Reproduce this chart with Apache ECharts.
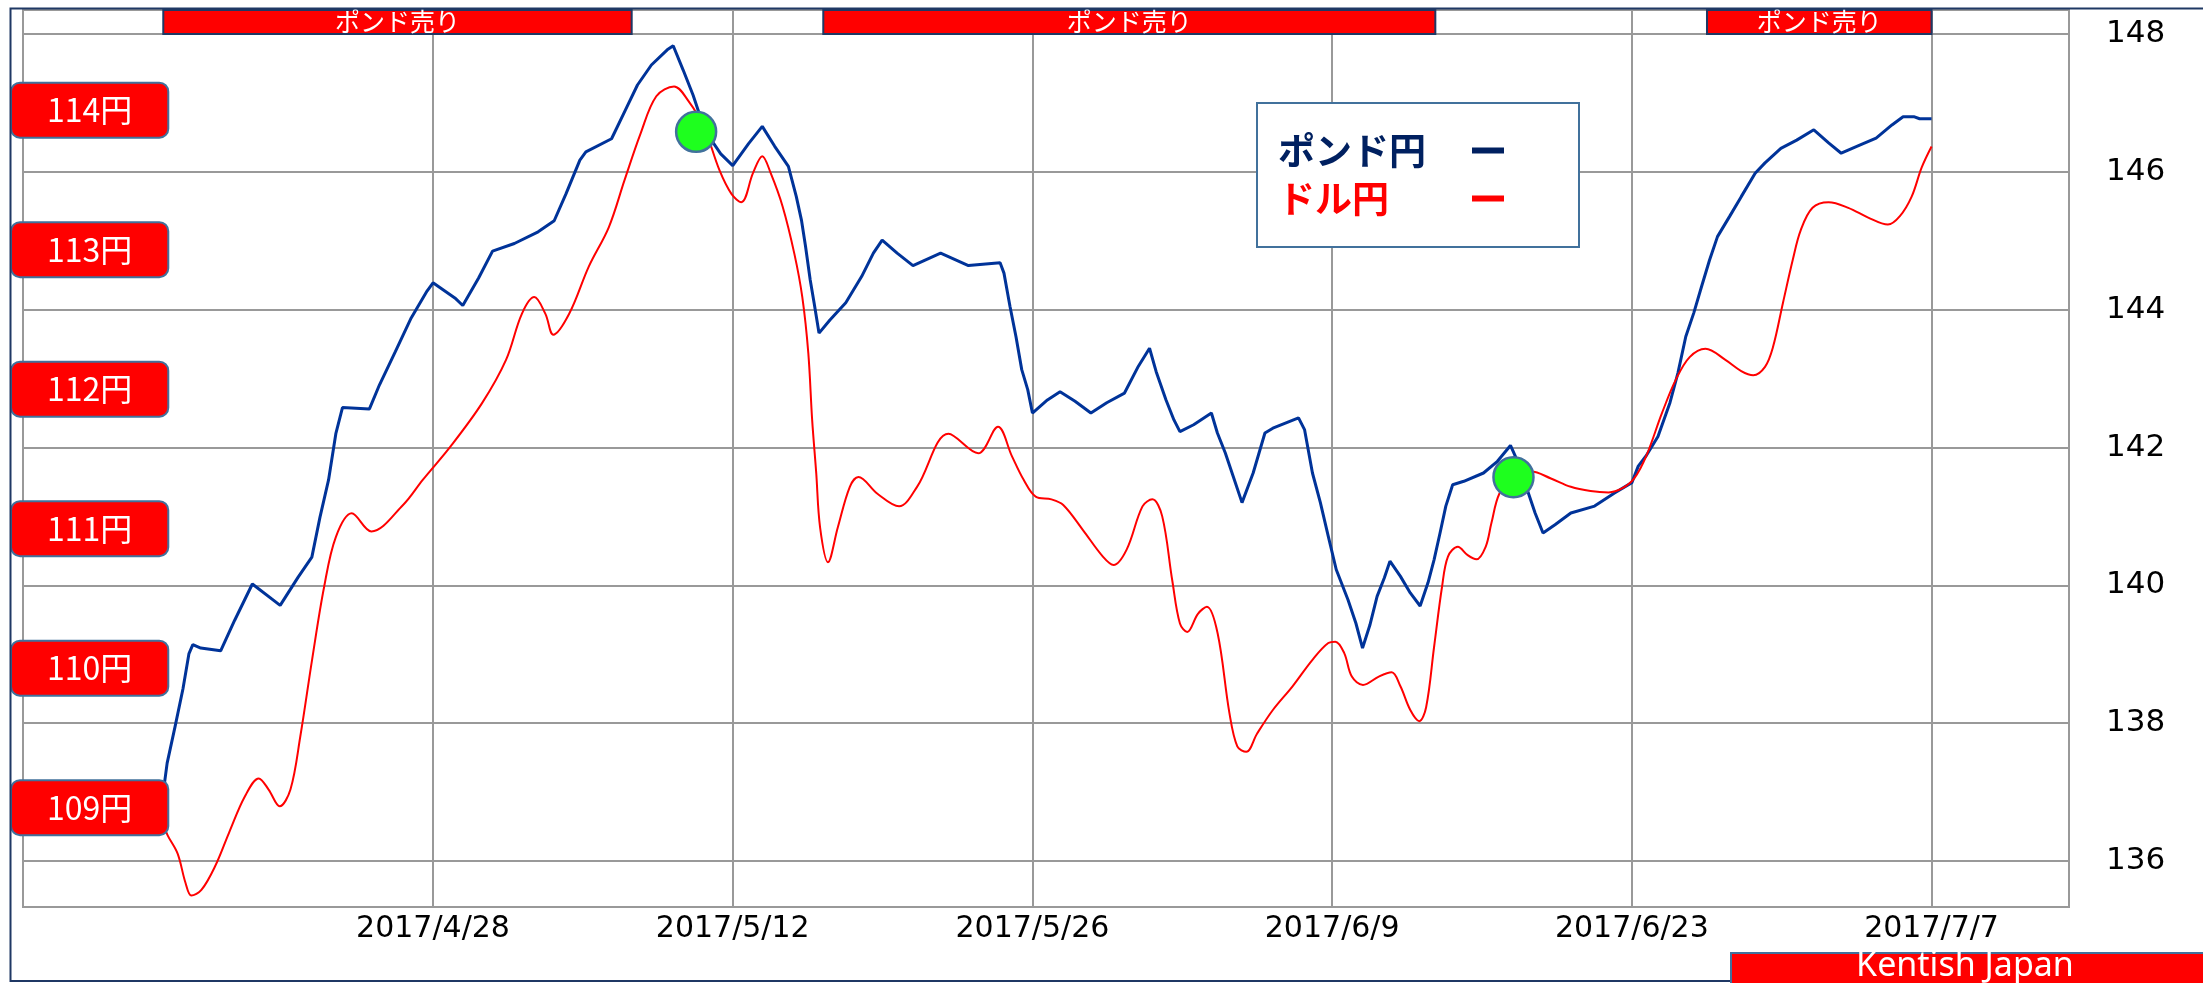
<!DOCTYPE html>
<html>
<head>
  <meta charset="utf-8">
  <title>ポンド円とドル円</title>
  <script src="https://cdn.jsdelivr.net/npm/echarts/dist/echarts.min.js"></script>
  <style>
    html, body { margin: 0; padding: 0; background: #fff; }
    #main { width: 2203px; height: 983px; }
  </style>
</head>
<body>
<div id="main"></div>

<script>
  // x は 2017/4/28 からの日数
  const tickDays = [0, 14, 28, 42, 56, 70];
  const tickLabels = ['2017/4/28', '2017/5/12', '2017/5/26', '2017/6/9', '2017/6/23', '2017/7/7'];
  const poundTicks = [136, 138, 140, 142, 144, 146, 148];
  const dollarTicks = [109, 110, 111, 112, 113, 114];

  // ポンド売りの期間 [開始, 終了]
  const sellPeriods = [[-12.60, 9.28], [18.23, 46.82], [59.51, 70.0]];
  // 緑の丸
  const signalPoints = [[12.29, 146.58], [50.47, 141.57]];

  // ポンド円
  const poundYen = [
    [-12.60, 137.00], [-12.42, 137.42], [-12.05, 137.95], [-11.68, 138.50], [-11.40, 139.01],
    [-11.22, 139.14], [-10.85, 139.09], [-9.92, 139.05], [-9.27, 139.49], [-8.44, 140.02],
    [-7.14, 139.71], [-6.30, 140.12], [-5.66, 140.41], [-5.28, 140.99], [-4.88, 141.53],
    [-4.54, 142.20], [-4.23, 142.58], [-2.97, 142.56], [-2.50, 142.91], [-1.76, 143.39],
    [-1.02, 143.88], [-0.28, 144.27], [0.00, 144.39], [1.02, 144.17], [1.39, 144.06],
    [2.13, 144.46], [2.78, 144.85], [3.80, 144.96], [4.91, 145.13], [5.66, 145.29],
    [6.21, 145.68], [6.86, 146.17], [7.14, 146.29], [8.34, 146.48], [8.99, 146.90],
    [9.55, 147.26], [10.20, 147.55], [10.94, 147.77], [11.22, 147.83], [11.68, 147.48],
    [12.15, 147.11], [12.70, 146.60], [13.44, 146.26], [14.00, 146.09], [14.74, 146.41],
    [15.38, 146.66], [15.96, 146.37], [16.60, 146.08], [16.97, 145.64], [17.21, 145.30],
    [17.40, 144.92], [17.62, 144.43], [17.80, 144.10], [18.03, 143.66], [18.54, 143.85],
    [19.28, 144.10], [20.02, 144.48], [20.57, 144.82], [20.98, 145.01], [21.68, 144.82],
    [22.42, 144.64], [23.71, 144.82], [25.01, 144.64], [26.49, 144.68], [26.67, 144.53],
    [26.95, 144.05], [27.23, 143.61], [27.50, 143.13], [27.78, 142.84], [28.00, 142.50],
    [28.70, 142.69], [29.29, 142.81], [29.99, 142.67], [30.73, 142.50], [31.47, 142.65],
    [32.30, 142.79], [32.95, 143.18], [33.47, 143.44], [33.78, 143.10], [34.24, 142.69],
    [34.61, 142.40], [34.89, 142.23], [35.53, 142.33], [36.36, 142.50], [36.64, 142.21],
    [37.01, 141.92], [37.38, 141.58], [37.79, 141.20], [38.31, 141.63], [38.86, 142.21],
    [39.23, 142.28], [40.43, 142.43], [40.71, 142.26], [41.08, 141.63], [41.45, 141.20],
    [41.82, 140.71], [42.19, 140.23], [42.74, 139.79], [43.11, 139.45], [43.42, 139.09],
    [43.76, 139.42], [44.10, 139.84], [44.44, 140.11], [44.70, 140.35], [45.19, 140.13],
    [45.65, 139.89], [46.11, 139.70], [46.48, 140.04], [46.76, 140.37], [47.04, 140.76],
    [47.31, 141.15], [47.63, 141.46], [48.15, 141.51], [49.07, 141.63], [49.72, 141.80],
    [50.33, 142.03], [50.56, 141.87], [51.11, 141.39], [51.48, 141.05], [51.85, 140.76],
    [52.41, 140.88], [53.15, 141.05], [54.26, 141.15], [55.19, 141.34], [56.00, 141.49],
    [56.30, 141.73], [56.67, 141.88], [57.22, 142.16], [57.78, 142.65], [58.15, 143.08],
    [58.52, 143.61], [58.89, 143.95], [59.26, 144.34], [59.63, 144.72], [60.00, 145.06],
    [60.56, 145.35], [61.11, 145.64], [61.76, 145.98], [62.22, 146.13], [62.96, 146.34],
    [63.70, 146.46], [64.50, 146.61], [65.19, 146.42], [65.78, 146.27], [66.67, 146.39],
    [67.41, 146.49], [68.15, 146.68], [68.67, 146.80], [69.17, 146.80], [69.44, 146.77],
    [70.00, 146.77]
  ];

  // ドル円
  const dollarYen = [
    [-12.60, 108.88], [-12.39, 108.80], [-11.93, 108.67], [-11.56, 108.46], [-11.29, 108.37],
    [-10.82, 108.41], [-10.18, 108.58], [-9.53, 108.82], [-8.79, 109.08], [-8.14, 109.21],
    [-7.68, 109.13], [-7.16, 109.01], [-6.66, 109.13], [-6.20, 109.51], [-5.65, 110.06],
    [-5.09, 110.58], [-4.54, 110.94], [-3.80, 111.11], [-2.88, 110.98], [-1.40, 111.17],
    [-0.48, 111.35], [0.82, 111.59], [2.29, 111.90], [3.41, 112.21], [4.15, 112.54],
    [4.73, 112.66], [5.25, 112.54], [5.62, 112.39], [6.36, 112.54], [7.28, 112.88],
    [8.21, 113.16], [8.95, 113.50], [9.69, 113.83], [10.43, 114.10], [11.26, 114.17],
    [11.91, 114.07], [12.65, 113.88], [13.38, 113.57], [13.94, 113.40], [14.40, 113.34],
    [14.95, 113.55], [15.38, 113.67], [15.77, 113.55], [16.33, 113.31], [16.88, 112.97],
    [17.25, 112.66], [17.53, 112.26], [17.71, 111.78], [17.90, 111.40], [18.08, 111.01],
    [18.45, 110.76], [18.91, 111.01], [19.47, 111.30], [19.87, 111.37], [20.76, 111.25],
    [21.77, 111.16], [22.61, 111.30], [24.08, 111.68], [25.47, 111.54], [26.39, 111.73],
    [27.04, 111.52], [27.59, 111.35], [28.15, 111.23], [28.89, 111.21], [29.44, 111.17],
    [30.36, 110.99], [31.29, 110.80], [31.79, 110.74], [32.40, 110.85], [33.14, 111.16],
    [33.60, 111.21], [34.06, 111.09], [34.53, 110.63], [34.89, 110.32], [35.23, 110.26],
    [35.73, 110.39], [36.15, 110.44], [36.65, 110.25], [37.20, 109.68], [37.57, 109.44],
    [37.99, 109.40], [38.49, 109.53], [39.23, 109.70], [40.15, 109.87], [41.08, 110.06],
    [41.82, 110.18], [42.15, 110.19], [42.56, 110.11], [42.92, 109.94], [43.44, 109.88],
    [44.18, 109.94], [44.78, 109.97], [45.19, 109.87], [45.65, 109.70], [46.07, 109.62],
    [46.39, 109.72], [46.76, 110.15], [47.13, 110.58], [47.41, 110.80], [47.87, 110.87],
    [48.33, 110.81], [48.74, 110.78], [49.17, 110.87], [49.44, 111.04], [49.81, 111.25],
    [50.46, 111.37], [51.30, 111.41], [52.22, 111.36], [53.15, 111.30], [54.07, 111.27],
    [54.91, 111.26], [55.56, 111.29], [56.11, 111.36], [56.67, 111.52], [57.41, 111.83],
    [58.06, 112.07], [58.70, 112.23], [59.44, 112.29], [60.37, 112.21], [61.11, 112.13],
    [61.67, 112.10], [62.22, 112.16], [62.59, 112.30], [63.06, 112.62], [63.52, 112.93],
    [63.89, 113.14], [64.44, 113.30], [65.19, 113.34], [66.11, 113.30], [67.04, 113.23],
    [67.96, 113.18], [68.52, 113.24], [69.07, 113.38], [69.54, 113.59], [70.00, 113.74]
  ];

  const JP = 'Noto Sans CJK JP';
  const NUM = 'DejaVu Sans';
  const GRID_GRAY = '#999999';

  var myChart = echarts.init(document.getElementById('main'));

  var option = {
    animation: false,
    backgroundColor: '#ffffff',
    grid: {
      left: 23,
      right: 134,
      top: 10,
      bottom: 76,
      show: true,
      borderColor: GRID_GRAY,
      borderWidth: 2,
      containLabel: false,
      outerBoundsMode: 'none'
    },
    legend: {
      left: 1257,
      top: 103,
      orient: 'vertical',
      align: 'right',
      padding: [29, 75, 30, 21],
      itemGap: 11,
      itemWidth: 32,
      itemHeight: 6,
      icon: 'rect',
      borderColor: '#41719C',
      borderWidth: 2,
      backgroundColor: '#ffffff',
      formatter: name => '{t|' + name + '}',
      textStyle: {
        fontFamily: JP,
        fontSize: 37,
        fontWeight: 'bold',
        rich: {
          t: { width: 189, align: 'left', fontFamily: JP, fontSize: 37, fontWeight: 'bold', lineHeight: 40 }
        }
      },
      data: [
        { name: 'ポンド円', itemStyle: { color: '#002060' }, textStyle: { color: '#002060' } },
        { name: 'ドル円', itemStyle: { color: '#ff0000' }, textStyle: { color: '#ff0000' } }
      ]
    },
    xAxis: {
      type: 'value',
      min: -19.153,
      max: 76.42,
      axisLine: { show: true, lineStyle: { color: GRID_GRAY, width: 2 } },
      axisTick: { show: false, customValues: tickDays },
      axisLabel: {
        customValues: tickDays,
        formatter: v => tickLabels[tickDays.indexOf(v)],
        fontFamily: NUM,
        fontSize: 30,
        color: '#000',
        margin: 7
      },
      splitLine: { show: true, lineStyle: { color: GRID_GRAY, width: 2 } }
    },
    yAxis: [
      {
        type: 'value',
        position: 'right',
        min: 135.333,
        max: 148.348,
        axisLine: { show: false },
        axisTick: { show: true, length: 19, customValues: poundTicks, lineStyle: { color: GRID_GRAY, width: 2 } },
        axisLabel: { customValues: poundTicks, margin: 37, fontFamily: NUM, fontSize: 31, color: '#000' },
        splitLine: { show: true, lineStyle: { color: GRID_GRAY, width: 2 } }
      },
      {
        type: 'value',
        position: 'left',
        min: 108.288,
        max: 114.718,
        z: 10,
        axisLine: { show: false },
        axisTick: { show: false, customValues: dollarTicks },
        splitLine: { show: false },
        axisLabel: {
          customValues: dollarTicks,
          formatter: v => v + '円',
          align: 'left',
          margin: 11,
          color: '#ffffff',
          fontFamily: JP,
          fontSize: 32,
          lineHeight: 37,
          backgroundColor: '#ff0000',
          borderColor: '#41719C',
          borderWidth: 2,
          borderRadius: 8,
          padding: [8, 35, 8, 35]
        }
      }
    ],
    series: [
      {
        name: 'ポンド円',
        type: 'line',
        yAxisIndex: 0,
        data: poundYen,
        showSymbol: false,
        color: '#003399',
        lineStyle: { color: '#003399', width: 3 },
        markArea: {
          silent: true,
          itemStyle: { color: '#ff0000', borderColor: '#1F3864', borderWidth: 2 },
          label: { show: true, position: 'inside', color: '#ffffff', fontFamily: JP, fontSize: 25 },
          data: sellPeriods.map(p => [
            { name: 'ポンド売り', xAxis: p[0], yAxis: 148 },
            { xAxis: p[1], yAxis: 148.348 }
          ])
        }
      },
      {
        name: 'ドル円',
        type: 'line',
        yAxisIndex: 1,
        data: dollarYen,
        showSymbol: false,
        smooth: 0.35,
        color: '#ff0000',
        lineStyle: { color: '#ff0000', width: 2 }
      },
      {
        name: 'シグナル',
        type: 'scatter',
        yAxisIndex: 0,
        data: signalPoints,
        symbol: 'circle',
        symbolSize: 40,
        itemStyle: { color: '#1eff1e', borderColor: '#41719C', borderWidth: 2.5, opacity: 1 },
        z: 5
      }
    ],
    graphic: [
      {
        type: 'rect',
        shape: { x: 10.5, y: 8.5, width: 2200, height: 972.5 },
        style: { fill: 'none', stroke: '#1F3864', lineWidth: 2 },
        z: 100
      },
      {
        type: 'rect',
        shape: { x: 1731, y: 953, width: 480, height: 40 },
        style: { fill: '#ff0000', stroke: '#41719C', lineWidth: 2 },
        z: 101
      },
      {
        type: 'text',
        x: 1965,
        y: 949,
        style: {
          text: 'Kentish Japan',
          fill: '#ffffff',
          font: '34px "Noto Sans"',
          textAlign: 'center',
          textVerticalAlign: 'top'
        },
        z: 102
      }
    ]
  };

  myChart.setOption(option);
</script>
</body>
</html>
